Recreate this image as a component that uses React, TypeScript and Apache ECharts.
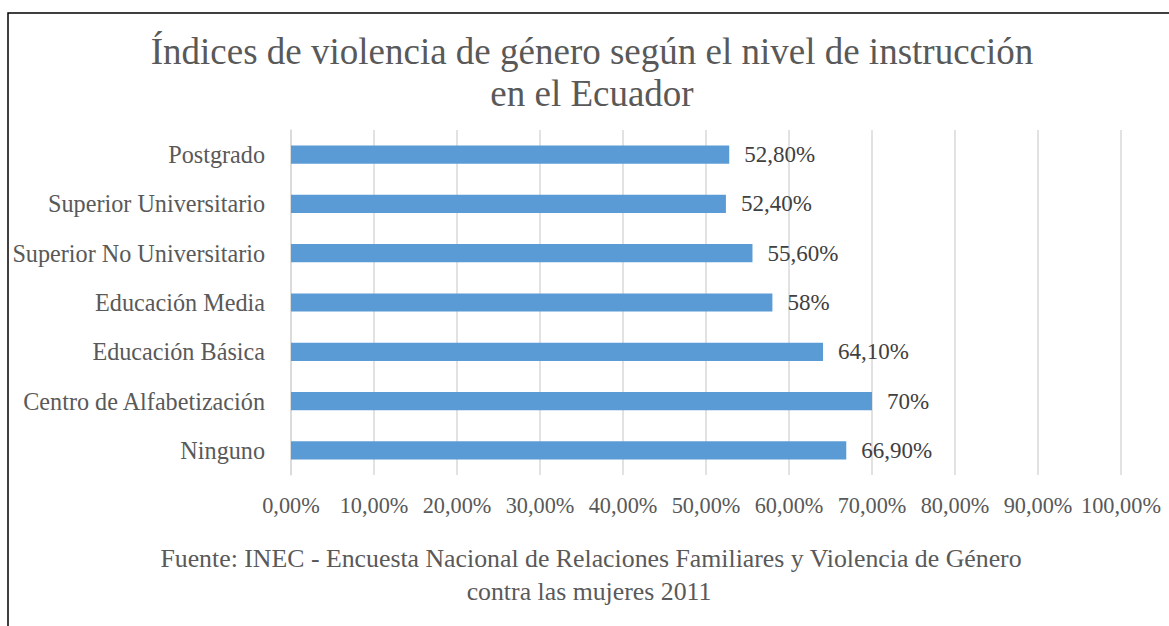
import React, { useEffect, useRef } from "react";
import * as echarts from "echarts";

const categories = [
  "Ninguno",
  "Centro de Alfabetización",
  "Educación Básica",
  "Educación Media",
  "Superior No Universitario",
  "Superior Universitario",
  "Postgrado",
];
const values = [66.9, 70, 64.1, 58, 55.6, 52.4, 52.8];
const titleLines = [
  "Índices de violencia de género según el nivel de instrucción",
  "en el Ecuador",
];
const sourceLines = [
  "Fuente: INEC - Encuesta Nacional de Relaciones Familiares y Violencia de Género",
  "contra las mujeres 2011",
];

const FONT = "'Liberation Serif', 'Times New Roman', serif";
const GREY = "#595959";

function fmtTick(v: number) {
  return v.toFixed(2).replace(".", ",") + "%";
}
function fmtLabel(v: number) {
  return Number.isInteger(v) ? `${v}%` : v.toFixed(2).replace(".", ",") + "%";
}

export default function App() {
  const ref = useRef<HTMLDivElement>(null);
  useEffect(() => {
    document.body.style.margin = "0";
    const chart = echarts.init(ref.current!, null, { renderer: "svg" });
    const textEl = (text: string, x: number, y: number, size: number) => ({
      type: "text",
      x,
      y,
      silent: true,
      style: {
        text,
        fontFamily: FONT,
        fontSize: size,
        fill: GREY,
        align: "center",
        verticalAlign: "middle",
      },
    });
    chart.setOption({
      animation: false,
      backgroundColor: "#ffffff",
      grid: { left: 291, right: 48, top: 130, bottom: 151, containLabel: false },
      xAxis: {
        type: "value",
        min: 0,
        max: 100,
        interval: 10,
        axisLine: { show: false },
        axisTick: { show: false },
        splitLine: { show: true, lineStyle: { color: "#d9d9d9", width: 1.5 } },
        axisLabel: {
          formatter: fmtTick,
          fontFamily: FONT,
          fontSize: 22.3,
          color: GREY,
          margin: 19,
        },
      },
      yAxis: {
        type: "category",
        data: categories,
        axisLine: { show: true, lineStyle: { color: "#d9d9d9", width: 1.5 } },
        axisTick: { show: false },
        axisLabel: {
          fontFamily: FONT,
          fontSize: 24.2,
          color: GREY,
          margin: 26,
        },
      },
      series: [
        {
          type: "bar",
          data: values,
          barCategoryGap: "63%",
          itemStyle: { color: "#5B9BD5" },
          label: {
            show: true,
            position: "right",
            distance: 15,
            formatter: (p: any) => fmtLabel(p.value),
            fontFamily: FONT,
            fontSize: 23,
            color: "#404040",
          },
        },
      ],
      graphic: [
        {
          type: "rect",
          silent: true,
          shape: { x: 8, y: 13, width: 1300, height: 800 },
          style: { fill: "none", stroke: "#000", lineWidth: 1.5 },
        },
        textEl(titleLines[0], 592, 51, 37),
        textEl(titleLines[1], 592, 93, 37),
        textEl(sourceLines[0], 591, 558, 25.8),
        textEl(sourceLines[1], 589, 591, 25.8),
      ],
    });
    return () => chart.dispose();
  }, []);
  return <div ref={ref} style={{ width: 1169, height: 626 }} />;
}
